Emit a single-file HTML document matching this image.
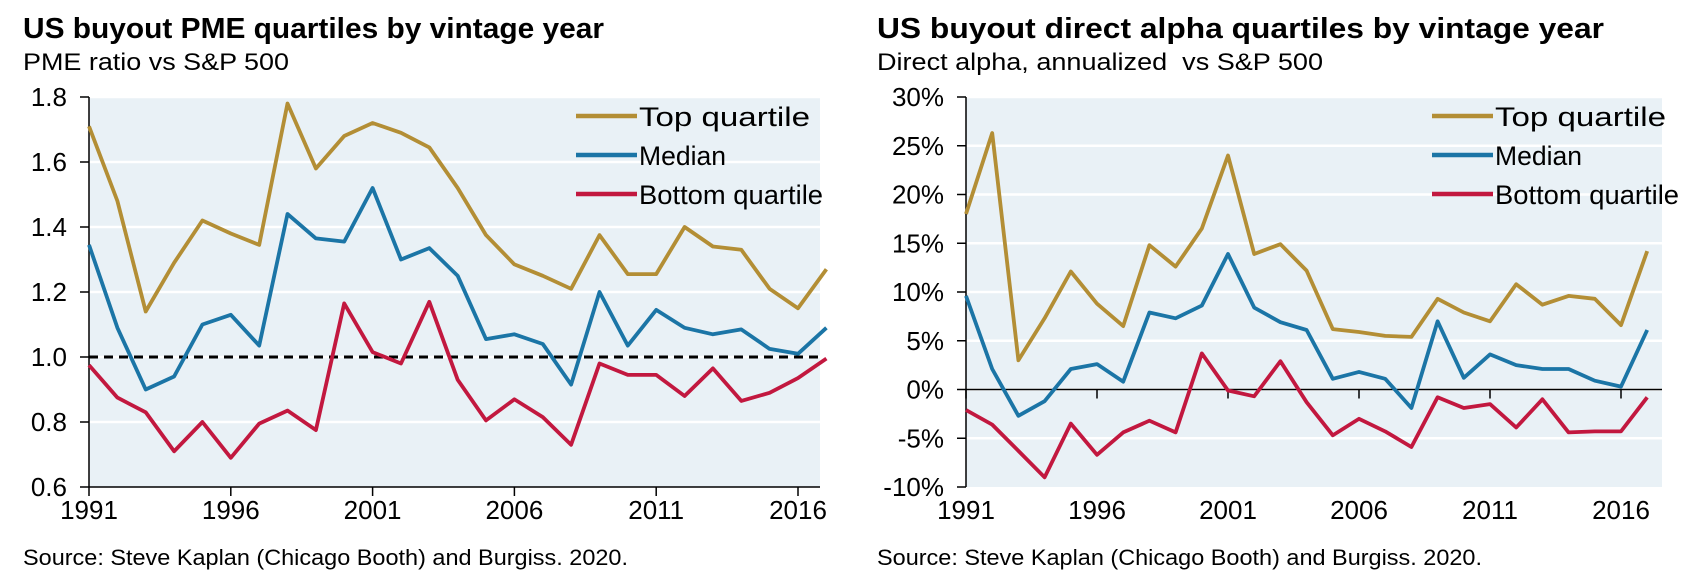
<!DOCTYPE html>
<html><head><meta charset="utf-8"><style>
body{margin:0;background:#fff;}
svg{display:block;font-family:"Liberation Sans",Arial,sans-serif;}
</style></head><body>
<svg id="s" width="1694" height="584" xmlns="http://www.w3.org/2000/svg"></svg>
<script>
const s=document.getElementById('s');
let h='';
const gold='#B38E35',blue='#1B75A6',red='#C2183F';
function T(x,y,fs,txt,len,extra){return `<text x="${x}" y="${y}" font-size="${fs}" ${len?`textLength="${len}" lengthAdjust="spacingAndGlyphs"`:''} ${extra||''}>${txt}</text>`;}
function chart(o){
  const {x0,xe,yr,ytop,ybot,vmin,vmax,step,lab,data,zero,dash}=o;
  const X=i=>x0+i*(xe-x0)/25, Y=v=>ybot-(v-vmin)/(vmax-vmin)*(ybot-ytop);
  h+=`<rect x="${x0}" y="${ytop}" width="${yr-x0}" height="${ybot-ytop}" fill="#E9F1F6"/>`;
  for(let v=vmin;v<=vmax+1e-9;v+=step){const y=Y(v);
    if(v>vmin+1e-9&&v<vmax+1e-9)h+=`<line x1="${x0}" x2="${yr}" y1="${y}" y2="${y}" stroke="#fff" stroke-width="2.5"/>`;
    h+=`<line x1="${x0-9}" x2="${x0}" y1="${y}" y2="${y}" stroke="#000" stroke-width="1.5"/>`;
    h+=T(x0-22,y+9,26,lab(v),'','text-anchor="end"');}
  h+=`<line x1="${x0}" x2="${x0}" y1="${ytop}" y2="${ybot}" stroke="#000" stroke-width="1.5"/>`;
  const ay=zero?Y(0):ybot;
  h+=`<line x1="${x0}" x2="${yr}" y1="${ay}" y2="${ay}" stroke="#000" stroke-width="1.5"/>`;
  for(let i=0;i<=25;i+=5){h+=`<line x1="${X(i)}" x2="${X(i)}" y1="${ay}" y2="${ay+9}" stroke="#000" stroke-width="1.5"/>`;
    h+=T(X(i),519,26,1991+i,'','text-anchor="middle"');}
  if(dash)h+=`<line x1="${x0}" x2="${yr}" y1="${Y(1)}" y2="${Y(1)}" stroke="#000" stroke-width="3" stroke-dasharray="9,6"/>`;
  [[data[2],red],[data[1],blue],[data[0],gold]].forEach(([d,c])=>{
    h+=`<polyline fill="none" stroke="${c}" stroke-width="3.8" stroke-linejoin="round" points="${d.map((v,i)=>X(i).toFixed(1)+','+Y(v).toFixed(1)).join(' ')}"/>`;});
  const lx=o.lx;
  [['Top quartile',gold,116,171],['Median',blue,155,87],['Bottom quartile',red,194,184]].forEach(([t,c,y,w])=>{
    h+=`<line x1="${lx}" x2="${lx+61}" y1="${y}" y2="${y}" stroke="${c}" stroke-width="4.5"/>`;
    h+=T(lx+63,y+10,27,t,w);});
  h+=T(o.tx,38,29,o.title,o.tw,'font-weight="bold"');
  h+=T(o.tx,70,24,o.sub,o.sw);
  h+=T(o.tx,565,22,'Source: Steve Kaplan (Chicago Booth) and Burgiss. 2020.',605);
}
chart({x0:89,xe:798,yr:820,ytop:97,ybot:487,vmin:0.6,vmax:1.8,step:0.2,lab:v=>v.toFixed(1),dash:true,lx:576,tx:23,
 title:'US buyout PME quartiles by vintage year',tw:581,sub:'PME ratio vs S&amp;P 500',sw:266,
 data:[[1.71,1.48,1.14,1.29,1.42,1.38,1.345,1.78,1.58,1.68,1.72,1.69,1.645,1.52,1.375,1.285,1.25,1.21,1.375,1.255,1.255,1.40,1.34,1.33,1.21,1.15,1.27],
 [1.345,1.09,0.90,0.94,1.10,1.13,1.035,1.44,1.365,1.355,1.52,1.30,1.335,1.25,1.055,1.07,1.04,0.915,1.20,1.035,1.145,1.09,1.07,1.085,1.025,1.01,1.09],
 [0.975,0.875,0.83,0.71,0.80,0.69,0.795,0.835,0.775,1.165,1.015,0.98,1.17,0.93,0.805,0.87,0.815,0.73,0.98,0.945,0.945,0.88,0.965,0.865,0.89,0.935,0.995]]});
chart({x0:966,xe:1621,yr:1662,ytop:97,ybot:487,vmin:-10,vmax:30,step:5,lab:v=>Math.round(v)+'%',zero:true,lx:1432,tx:877,
 title:'US buyout direct alpha quartiles by vintage year',tw:727,sub:'Direct alpha, annualized&#160; vs S&amp;P 500',sw:446,
 data:[[18,26.3,3,7.3,12.1,8.8,6.5,14.8,12.6,16.5,24,13.9,14.9,12.2,6.2,5.9,5.5,5.4,9.3,7.9,7,10.8,8.7,9.6,9.3,6.6,14.2],
 [9.6,2.1,-2.7,-1.2,2.1,2.6,0.8,7.9,7.3,8.6,13.9,8.4,6.9,6.1,1.1,1.8,1.1,-1.9,7,1.2,3.6,2.5,2.1,2.1,0.9,0.3,6.1],
 [-2.1,-3.6,-6.3,-9,-3.5,-6.7,-4.4,-3.2,-4.4,3.7,-0.1,-0.7,2.9,-1.3,-4.7,-3,-4.3,-5.9,-0.8,-1.9,-1.5,-3.9,-1,-4.4,-4.3,-4.3,-0.8]]});
s.innerHTML=h;
</script>
</body></html>
